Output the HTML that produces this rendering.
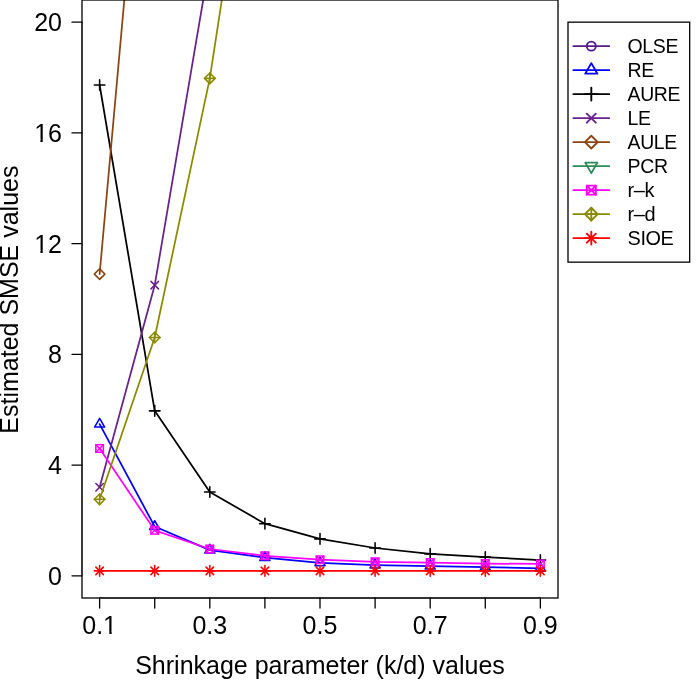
<!DOCTYPE html>
<html><head><meta charset="utf-8"><title>plot</title>
<style>html,body{margin:0;padding:0;background:#fff}svg{display:block;will-change:transform;filter:grayscale(0)}text{font-family:"Liberation Sans",sans-serif;fill:#000}</style></head>
<body>
<svg width="700" height="700" viewBox="0 0 700 700">
<rect width="700" height="700" fill="#fff"/>
<defs><clipPath id="pc"><rect x="82.0" y="0.0" width="476.0" height="598.0"/></clipPath></defs>
<g clip-path="url(#pc)">
<polyline points="99.63,424.14 154.72,526.57 209.81,550.10 264.91,557.58 320.00,562.84 375.09,565.05 430.19,566.16 485.28,567.13 540.37,568.29" fill="none" stroke="#0000FF" stroke-width="1.75" stroke-linecap="round" stroke-linejoin="round"/>
<path d="M99.63 418.31L104.68 427.05L94.58 427.05Z" fill="none" stroke="#0000FF" stroke-width="1.5625" stroke-linecap="round" stroke-linejoin="round"/>
<path d="M154.72 520.74L159.77 529.49L149.67 529.49Z" fill="none" stroke="#0000FF" stroke-width="1.5625" stroke-linecap="round" stroke-linejoin="round"/>
<path d="M209.81 544.27L214.87 553.02L204.76 553.02Z" fill="none" stroke="#0000FF" stroke-width="1.5625" stroke-linecap="round" stroke-linejoin="round"/>
<path d="M264.91 551.75L269.96 560.50L259.86 560.50Z" fill="none" stroke="#0000FF" stroke-width="1.5625" stroke-linecap="round" stroke-linejoin="round"/>
<path d="M320.00 557.01L325.05 565.76L314.95 565.76Z" fill="none" stroke="#0000FF" stroke-width="1.5625" stroke-linecap="round" stroke-linejoin="round"/>
<path d="M375.09 559.22L380.14 567.97L370.04 567.97Z" fill="none" stroke="#0000FF" stroke-width="1.5625" stroke-linecap="round" stroke-linejoin="round"/>
<path d="M430.19 560.33L435.24 569.08L425.13 569.08Z" fill="none" stroke="#0000FF" stroke-width="1.5625" stroke-linecap="round" stroke-linejoin="round"/>
<path d="M485.28 561.30L490.33 570.05L480.23 570.05Z" fill="none" stroke="#0000FF" stroke-width="1.5625" stroke-linecap="round" stroke-linejoin="round"/>
<path d="M540.37 562.46L545.42 571.21L535.32 571.21Z" fill="none" stroke="#0000FF" stroke-width="1.5625" stroke-linecap="round" stroke-linejoin="round"/>
<polyline points="99.63,85.00 154.72,410.85 209.81,491.97 264.91,523.69 320.00,538.89 375.09,548.00 430.19,553.90 485.28,557.11 540.37,560.02" fill="none" stroke="#000000" stroke-width="1.75" stroke-linecap="round" stroke-linejoin="round"/>
<path d="M94.33 85.00L104.93 85.00" fill="none" stroke="#000000" stroke-width="1.5625" stroke-linecap="round" stroke-linejoin="round"/><path d="M99.63 79.69L99.63 90.30" fill="none" stroke="#000000" stroke-width="1.5625" stroke-linecap="round" stroke-linejoin="round"/>
<path d="M149.42 410.85L160.03 410.85" fill="none" stroke="#000000" stroke-width="1.5625" stroke-linecap="round" stroke-linejoin="round"/><path d="M154.72 405.55L154.72 416.15" fill="none" stroke="#000000" stroke-width="1.5625" stroke-linecap="round" stroke-linejoin="round"/>
<path d="M204.51 491.97L215.12 491.97" fill="none" stroke="#000000" stroke-width="1.5625" stroke-linecap="round" stroke-linejoin="round"/><path d="M209.81 486.66L209.81 497.27" fill="none" stroke="#000000" stroke-width="1.5625" stroke-linecap="round" stroke-linejoin="round"/>
<path d="M259.60 523.69L270.21 523.69" fill="none" stroke="#000000" stroke-width="1.5625" stroke-linecap="round" stroke-linejoin="round"/><path d="M264.91 518.39L264.91 529.00" fill="none" stroke="#000000" stroke-width="1.5625" stroke-linecap="round" stroke-linejoin="round"/>
<path d="M314.70 538.89L325.30 538.89" fill="none" stroke="#000000" stroke-width="1.5625" stroke-linecap="round" stroke-linejoin="round"/><path d="M320.00 533.59L320.00 544.20" fill="none" stroke="#000000" stroke-width="1.5625" stroke-linecap="round" stroke-linejoin="round"/>
<path d="M369.79 548.00L380.40 548.00" fill="none" stroke="#000000" stroke-width="1.5625" stroke-linecap="round" stroke-linejoin="round"/><path d="M375.09 542.70L375.09 553.30" fill="none" stroke="#000000" stroke-width="1.5625" stroke-linecap="round" stroke-linejoin="round"/>
<path d="M424.88 553.90L435.49 553.90" fill="none" stroke="#000000" stroke-width="1.5625" stroke-linecap="round" stroke-linejoin="round"/><path d="M430.19 548.59L430.19 559.20" fill="none" stroke="#000000" stroke-width="1.5625" stroke-linecap="round" stroke-linejoin="round"/>
<path d="M479.97 557.11L490.58 557.11" fill="none" stroke="#000000" stroke-width="1.5625" stroke-linecap="round" stroke-linejoin="round"/><path d="M485.28 551.81L485.28 562.41" fill="none" stroke="#000000" stroke-width="1.5625" stroke-linecap="round" stroke-linejoin="round"/>
<path d="M535.07 560.02L545.67 560.02" fill="none" stroke="#000000" stroke-width="1.5625" stroke-linecap="round" stroke-linejoin="round"/><path d="M540.37 554.71L540.37 565.32" fill="none" stroke="#000000" stroke-width="1.5625" stroke-linecap="round" stroke-linejoin="round"/>
<polyline points="99.63,487.26 154.72,285.16 209.81,-38.75 264.91,-531.55 320.00,-1085.25 375.09,-1638.95 430.19,-2192.65 485.28,-2746.35 540.37,-3300.05" fill="none" stroke="#68228B" stroke-width="1.75" stroke-linecap="round" stroke-linejoin="round"/>
<path d="M95.88 483.51L103.38 491.01" fill="none" stroke="#68228B" stroke-width="1.5625" stroke-linecap="round" stroke-linejoin="round"/><path d="M95.88 491.01L103.38 483.51" fill="none" stroke="#68228B" stroke-width="1.5625" stroke-linecap="round" stroke-linejoin="round"/>
<path d="M150.97 281.41L158.47 288.91" fill="none" stroke="#68228B" stroke-width="1.5625" stroke-linecap="round" stroke-linejoin="round"/><path d="M150.97 288.91L158.47 281.41" fill="none" stroke="#68228B" stroke-width="1.5625" stroke-linecap="round" stroke-linejoin="round"/>
<path d="M206.06 -42.50L213.56 -35.00" fill="none" stroke="#68228B" stroke-width="1.5625" stroke-linecap="round" stroke-linejoin="round"/><path d="M206.06 -35.00L213.56 -42.50" fill="none" stroke="#68228B" stroke-width="1.5625" stroke-linecap="round" stroke-linejoin="round"/>
<polyline points="99.63,274.09 154.72,-337.75 209.81,-1085.25 264.91,-1638.95 320.00,-2192.65 375.09,-2746.35 430.19,-3300.05 485.28,-3853.75 540.37,-4407.45" fill="none" stroke="#8B4513" stroke-width="1.75" stroke-linecap="round" stroke-linejoin="round"/>
<path d="M94.33 274.09L99.63 279.39L104.93 274.09L99.63 268.78Z" fill="none" stroke="#8B4513" stroke-width="1.5625" stroke-linecap="round" stroke-linejoin="round"/>
<polyline points="99.63,448.50 154.72,530.31 209.81,549.00 264.91,555.78 320.00,559.71 375.09,561.87 430.19,562.59 485.28,563.59 540.37,563.95" fill="none" stroke="#FF00FF" stroke-width="1.75" stroke-linecap="round" stroke-linejoin="round"/>
<path d="M95.88 444.75L103.38 452.25" fill="none" stroke="#FF00FF" stroke-width="1.5625" stroke-linecap="round" stroke-linejoin="round"/><path d="M95.88 452.25L103.38 444.75" fill="none" stroke="#FF00FF" stroke-width="1.5625" stroke-linecap="round" stroke-linejoin="round"/><rect x="95.88" y="444.75" width="7.50" height="7.50" fill="none" stroke="#FF00FF" stroke-width="1.5625" stroke-linecap="round" stroke-linejoin="round"/>
<path d="M150.97 526.56L158.47 534.06" fill="none" stroke="#FF00FF" stroke-width="1.5625" stroke-linecap="round" stroke-linejoin="round"/><path d="M150.97 534.06L158.47 526.56" fill="none" stroke="#FF00FF" stroke-width="1.5625" stroke-linecap="round" stroke-linejoin="round"/><rect x="150.97" y="526.56" width="7.50" height="7.50" fill="none" stroke="#FF00FF" stroke-width="1.5625" stroke-linecap="round" stroke-linejoin="round"/>
<path d="M206.06 545.25L213.56 552.75" fill="none" stroke="#FF00FF" stroke-width="1.5625" stroke-linecap="round" stroke-linejoin="round"/><path d="M206.06 552.75L213.56 545.25" fill="none" stroke="#FF00FF" stroke-width="1.5625" stroke-linecap="round" stroke-linejoin="round"/><rect x="206.06" y="545.25" width="7.50" height="7.50" fill="none" stroke="#FF00FF" stroke-width="1.5625" stroke-linecap="round" stroke-linejoin="round"/>
<path d="M261.16 552.03L268.66 559.53" fill="none" stroke="#FF00FF" stroke-width="1.5625" stroke-linecap="round" stroke-linejoin="round"/><path d="M261.16 559.53L268.66 552.03" fill="none" stroke="#FF00FF" stroke-width="1.5625" stroke-linecap="round" stroke-linejoin="round"/><rect x="261.16" y="552.03" width="7.50" height="7.50" fill="none" stroke="#FF00FF" stroke-width="1.5625" stroke-linecap="round" stroke-linejoin="round"/>
<path d="M316.25 555.96L323.75 563.46" fill="none" stroke="#FF00FF" stroke-width="1.5625" stroke-linecap="round" stroke-linejoin="round"/><path d="M316.25 563.46L323.75 555.96" fill="none" stroke="#FF00FF" stroke-width="1.5625" stroke-linecap="round" stroke-linejoin="round"/><rect x="316.25" y="555.96" width="7.50" height="7.50" fill="none" stroke="#FF00FF" stroke-width="1.5625" stroke-linecap="round" stroke-linejoin="round"/>
<path d="M371.34 558.12L378.84 565.62" fill="none" stroke="#FF00FF" stroke-width="1.5625" stroke-linecap="round" stroke-linejoin="round"/><path d="M371.34 565.62L378.84 558.12" fill="none" stroke="#FF00FF" stroke-width="1.5625" stroke-linecap="round" stroke-linejoin="round"/><rect x="371.34" y="558.12" width="7.50" height="7.50" fill="none" stroke="#FF00FF" stroke-width="1.5625" stroke-linecap="round" stroke-linejoin="round"/>
<path d="M426.44 558.84L433.94 566.34" fill="none" stroke="#FF00FF" stroke-width="1.5625" stroke-linecap="round" stroke-linejoin="round"/><path d="M426.44 566.34L433.94 558.84" fill="none" stroke="#FF00FF" stroke-width="1.5625" stroke-linecap="round" stroke-linejoin="round"/><rect x="426.44" y="558.84" width="7.50" height="7.50" fill="none" stroke="#FF00FF" stroke-width="1.5625" stroke-linecap="round" stroke-linejoin="round"/>
<path d="M481.53 559.84L489.03 567.34" fill="none" stroke="#FF00FF" stroke-width="1.5625" stroke-linecap="round" stroke-linejoin="round"/><path d="M481.53 567.34L489.03 559.84" fill="none" stroke="#FF00FF" stroke-width="1.5625" stroke-linecap="round" stroke-linejoin="round"/><rect x="481.53" y="559.84" width="7.50" height="7.50" fill="none" stroke="#FF00FF" stroke-width="1.5625" stroke-linecap="round" stroke-linejoin="round"/>
<path d="M536.62 560.20L544.12 567.70" fill="none" stroke="#FF00FF" stroke-width="1.5625" stroke-linecap="round" stroke-linejoin="round"/><path d="M536.62 567.70L544.12 560.20" fill="none" stroke="#FF00FF" stroke-width="1.5625" stroke-linecap="round" stroke-linejoin="round"/><rect x="536.62" y="560.20" width="7.50" height="7.50" fill="none" stroke="#FF00FF" stroke-width="1.5625" stroke-linecap="round" stroke-linejoin="round"/>
<polyline points="99.63,499.30 154.72,337.48 209.81,78.35 264.91,-281.00 320.00,-808.40 375.09,-1362.10 430.19,-1915.80 485.28,-2469.50 540.37,-3023.20" fill="none" stroke="#8B8B00" stroke-width="1.75" stroke-linecap="round" stroke-linejoin="round"/>
<path d="M94.33 499.30L104.93 499.30" fill="none" stroke="#8B8B00" stroke-width="1.5625" stroke-linecap="round" stroke-linejoin="round"/><path d="M99.63 494.00L99.63 504.61" fill="none" stroke="#8B8B00" stroke-width="1.5625" stroke-linecap="round" stroke-linejoin="round"/><path d="M94.33 499.30L99.63 504.61L104.93 499.30L99.63 494.00Z" fill="none" stroke="#8B8B00" stroke-width="1.5625" stroke-linecap="round" stroke-linejoin="round"/>
<path d="M149.42 337.48L160.03 337.48" fill="none" stroke="#8B8B00" stroke-width="1.5625" stroke-linecap="round" stroke-linejoin="round"/><path d="M154.72 332.18L154.72 342.79" fill="none" stroke="#8B8B00" stroke-width="1.5625" stroke-linecap="round" stroke-linejoin="round"/><path d="M149.42 337.48L154.72 342.79L160.03 337.48L154.72 332.18Z" fill="none" stroke="#8B8B00" stroke-width="1.5625" stroke-linecap="round" stroke-linejoin="round"/>
<path d="M204.51 78.35L215.12 78.35" fill="none" stroke="#8B8B00" stroke-width="1.5625" stroke-linecap="round" stroke-linejoin="round"/><path d="M209.81 73.05L209.81 83.66" fill="none" stroke="#8B8B00" stroke-width="1.5625" stroke-linecap="round" stroke-linejoin="round"/><path d="M204.51 78.35L209.81 83.66L215.12 78.35L209.81 73.05Z" fill="none" stroke="#8B8B00" stroke-width="1.5625" stroke-linecap="round" stroke-linejoin="round"/>
<polyline points="99.63,570.87 154.72,570.87 209.81,570.87 264.91,570.87 320.00,570.87 375.09,570.87 430.19,570.87 485.28,570.87 540.37,570.87" fill="none" stroke="#FF0000" stroke-width="1.75" stroke-linecap="round" stroke-linejoin="round"/>
<path d="M95.88 567.12L103.38 574.62" fill="none" stroke="#FF0000" stroke-width="1.5625" stroke-linecap="round" stroke-linejoin="round"/><path d="M95.88 574.62L103.38 567.12" fill="none" stroke="#FF0000" stroke-width="1.5625" stroke-linecap="round" stroke-linejoin="round"/><path d="M94.33 570.87L104.93 570.87" fill="none" stroke="#FF0000" stroke-width="1.5625" stroke-linecap="round" stroke-linejoin="round"/><path d="M99.63 565.57L99.63 576.17" fill="none" stroke="#FF0000" stroke-width="1.5625" stroke-linecap="round" stroke-linejoin="round"/>
<path d="M150.97 567.12L158.47 574.62" fill="none" stroke="#FF0000" stroke-width="1.5625" stroke-linecap="round" stroke-linejoin="round"/><path d="M150.97 574.62L158.47 567.12" fill="none" stroke="#FF0000" stroke-width="1.5625" stroke-linecap="round" stroke-linejoin="round"/><path d="M149.42 570.87L160.03 570.87" fill="none" stroke="#FF0000" stroke-width="1.5625" stroke-linecap="round" stroke-linejoin="round"/><path d="M154.72 565.57L154.72 576.17" fill="none" stroke="#FF0000" stroke-width="1.5625" stroke-linecap="round" stroke-linejoin="round"/>
<path d="M206.06 567.12L213.56 574.62" fill="none" stroke="#FF0000" stroke-width="1.5625" stroke-linecap="round" stroke-linejoin="round"/><path d="M206.06 574.62L213.56 567.12" fill="none" stroke="#FF0000" stroke-width="1.5625" stroke-linecap="round" stroke-linejoin="round"/><path d="M204.51 570.87L215.12 570.87" fill="none" stroke="#FF0000" stroke-width="1.5625" stroke-linecap="round" stroke-linejoin="round"/><path d="M209.81 565.57L209.81 576.17" fill="none" stroke="#FF0000" stroke-width="1.5625" stroke-linecap="round" stroke-linejoin="round"/>
<path d="M261.16 567.12L268.66 574.62" fill="none" stroke="#FF0000" stroke-width="1.5625" stroke-linecap="round" stroke-linejoin="round"/><path d="M261.16 574.62L268.66 567.12" fill="none" stroke="#FF0000" stroke-width="1.5625" stroke-linecap="round" stroke-linejoin="round"/><path d="M259.60 570.87L270.21 570.87" fill="none" stroke="#FF0000" stroke-width="1.5625" stroke-linecap="round" stroke-linejoin="round"/><path d="M264.91 565.57L264.91 576.17" fill="none" stroke="#FF0000" stroke-width="1.5625" stroke-linecap="round" stroke-linejoin="round"/>
<path d="M316.25 567.12L323.75 574.62" fill="none" stroke="#FF0000" stroke-width="1.5625" stroke-linecap="round" stroke-linejoin="round"/><path d="M316.25 574.62L323.75 567.12" fill="none" stroke="#FF0000" stroke-width="1.5625" stroke-linecap="round" stroke-linejoin="round"/><path d="M314.70 570.87L325.30 570.87" fill="none" stroke="#FF0000" stroke-width="1.5625" stroke-linecap="round" stroke-linejoin="round"/><path d="M320.00 565.57L320.00 576.17" fill="none" stroke="#FF0000" stroke-width="1.5625" stroke-linecap="round" stroke-linejoin="round"/>
<path d="M371.34 567.12L378.84 574.62" fill="none" stroke="#FF0000" stroke-width="1.5625" stroke-linecap="round" stroke-linejoin="round"/><path d="M371.34 574.62L378.84 567.12" fill="none" stroke="#FF0000" stroke-width="1.5625" stroke-linecap="round" stroke-linejoin="round"/><path d="M369.79 570.87L380.40 570.87" fill="none" stroke="#FF0000" stroke-width="1.5625" stroke-linecap="round" stroke-linejoin="round"/><path d="M375.09 565.57L375.09 576.17" fill="none" stroke="#FF0000" stroke-width="1.5625" stroke-linecap="round" stroke-linejoin="round"/>
<path d="M426.44 567.12L433.94 574.62" fill="none" stroke="#FF0000" stroke-width="1.5625" stroke-linecap="round" stroke-linejoin="round"/><path d="M426.44 574.62L433.94 567.12" fill="none" stroke="#FF0000" stroke-width="1.5625" stroke-linecap="round" stroke-linejoin="round"/><path d="M424.88 570.87L435.49 570.87" fill="none" stroke="#FF0000" stroke-width="1.5625" stroke-linecap="round" stroke-linejoin="round"/><path d="M430.19 565.57L430.19 576.17" fill="none" stroke="#FF0000" stroke-width="1.5625" stroke-linecap="round" stroke-linejoin="round"/>
<path d="M481.53 567.12L489.03 574.62" fill="none" stroke="#FF0000" stroke-width="1.5625" stroke-linecap="round" stroke-linejoin="round"/><path d="M481.53 574.62L489.03 567.12" fill="none" stroke="#FF0000" stroke-width="1.5625" stroke-linecap="round" stroke-linejoin="round"/><path d="M479.97 570.87L490.58 570.87" fill="none" stroke="#FF0000" stroke-width="1.5625" stroke-linecap="round" stroke-linejoin="round"/><path d="M485.28 565.57L485.28 576.17" fill="none" stroke="#FF0000" stroke-width="1.5625" stroke-linecap="round" stroke-linejoin="round"/>
<path d="M536.62 567.12L544.12 574.62" fill="none" stroke="#FF0000" stroke-width="1.5625" stroke-linecap="round" stroke-linejoin="round"/><path d="M536.62 574.62L544.12 567.12" fill="none" stroke="#FF0000" stroke-width="1.5625" stroke-linecap="round" stroke-linejoin="round"/><path d="M535.07 570.87L545.67 570.87" fill="none" stroke="#FF0000" stroke-width="1.5625" stroke-linecap="round" stroke-linejoin="round"/><path d="M540.37 565.57L540.37 576.17" fill="none" stroke="#FF0000" stroke-width="1.5625" stroke-linecap="round" stroke-linejoin="round"/>
</g>
<g stroke="#000" stroke-width="1.3" stroke-linecap="round" fill="none">
<path d="M99.63 598.0H540.37" stroke-opacity="0.55"/>
<path d="M99.63 598.0v10"/>
<path d="M154.72 598.0v10"/>
<path d="M209.81 598.0v10"/>
<path d="M264.91 598.0v10"/>
<path d="M320.00 598.0v10"/>
<path d="M375.09 598.0v10"/>
<path d="M430.19 598.0v10"/>
<path d="M485.28 598.0v10"/>
<path d="M540.37 598.0v10"/>
<path d="M82.0 575.85V22.15" stroke-opacity="0.55"/>
<path d="M82.0 575.85h-10"/>
<path d="M82.0 465.11h-10"/>
<path d="M82.0 354.37h-10"/>
<path d="M82.0 243.63h-10"/>
<path d="M82.0 132.89h-10"/>
<path d="M82.0 22.15h-10"/>
<rect x="82.0" y="0.0" width="476.0" height="598.0"/>
</g>
<text x="99.63" y="634" font-size="25" text-anchor="middle">0.1</text>
<text x="209.81" y="634" font-size="25" text-anchor="middle">0.3</text>
<text x="320.00" y="634" font-size="25" text-anchor="middle">0.5</text>
<text x="430.19" y="634" font-size="25" text-anchor="middle">0.7</text>
<text x="540.37" y="634" font-size="25" text-anchor="middle">0.9</text>
<text x="62" y="584.80" font-size="25" text-anchor="end">0</text>
<text x="62" y="474.06" font-size="25" text-anchor="end">4</text>
<text x="62" y="363.32" font-size="25" text-anchor="end">8</text>
<text x="62" y="252.58" font-size="25" text-anchor="end">12</text>
<text x="62" y="141.84" font-size="25" text-anchor="end">16</text>
<text x="62" y="31.10" font-size="25" text-anchor="end">20</text>
<rect x="104.08" y="631.60" width="5.26" height="2.9" fill="#fff"/><rect x="111.65" y="631.60" width="4.44" height="2.9" fill="#fff"/>
<rect x="35.17" y="250.18" width="5.26" height="2.9" fill="#fff"/><rect x="42.74" y="250.18" width="4.44" height="2.9" fill="#fff"/>
<rect x="35.17" y="139.44" width="5.26" height="2.9" fill="#fff"/><rect x="42.74" y="139.44" width="4.44" height="2.9" fill="#fff"/>
<text x="320" y="674" font-size="25" text-anchor="middle">Shrinkage parameter (k/d) values</text>
<text transform="translate(18,299.6) rotate(-90)" font-size="25" text-anchor="middle">Estimated SMSE values</text>
<rect x="568.0" y="22.15" width="121.7" height="240.0" fill="#fff" stroke="#000" stroke-width="1.3"/>
<path d="M573.4 46.15H609.2" stroke="#551A8B" stroke-width="1.8" stroke-linecap="round" fill="none"/>
<circle cx="591.30" cy="46.15" r="4.50" fill="none" stroke="#551A8B" stroke-width="1.9" stroke-linecap="round" stroke-linejoin="round"/>
<text transform="translate(627.6,53.45) scale(0.975,1.03)" font-size="20" letter-spacing="-0.4">OLSE</text>
<path d="M573.4 70.15H609.2" stroke="#0000FF" stroke-width="1.8" stroke-linecap="round" fill="none"/>
<path d="M591.30 63.15L597.36 73.65L585.24 73.65Z" fill="none" stroke="#0000FF" stroke-width="1.9" stroke-linecap="round" stroke-linejoin="round"/>
<text transform="translate(627.6,77.45) scale(0.975,1.03)" font-size="20" letter-spacing="-0.4">RE</text>
<path d="M573.4 94.15H609.2" stroke="#000000" stroke-width="1.8" stroke-linecap="round" fill="none"/>
<path d="M584.94 94.15L597.66 94.15" fill="none" stroke="#000000" stroke-width="1.9" stroke-linecap="round" stroke-linejoin="round"/><path d="M591.30 87.79L591.30 100.51" fill="none" stroke="#000000" stroke-width="1.9" stroke-linecap="round" stroke-linejoin="round"/>
<text transform="translate(627.6,101.45) scale(0.97,1.03)" font-size="20" letter-spacing="-0.4">AURE</text>
<path d="M573.4 118.15H609.2" stroke="#68228B" stroke-width="1.8" stroke-linecap="round" fill="none"/>
<path d="M586.80 113.65L595.80 122.65" fill="none" stroke="#68228B" stroke-width="1.9" stroke-linecap="round" stroke-linejoin="round"/><path d="M586.80 122.65L595.80 113.65" fill="none" stroke="#68228B" stroke-width="1.9" stroke-linecap="round" stroke-linejoin="round"/>
<text transform="translate(627.6,125.45) scale(0.975,1.03)" font-size="20" letter-spacing="-0.4">LE</text>
<path d="M573.4 142.15H609.2" stroke="#8B4513" stroke-width="1.8" stroke-linecap="round" fill="none"/>
<path d="M584.94 142.15L591.30 148.51L597.66 142.15L591.30 135.79Z" fill="none" stroke="#8B4513" stroke-width="1.9" stroke-linecap="round" stroke-linejoin="round"/>
<text transform="translate(627.6,149.45) scale(0.97,1.03)" font-size="20" letter-spacing="-0.4">AULE</text>
<path d="M573.4 166.15H609.2" stroke="#2E8B57" stroke-width="1.8" stroke-linecap="round" fill="none"/>
<path d="M591.30 173.15L597.36 162.65L585.24 162.65Z" fill="none" stroke="#2E8B57" stroke-width="1.9" stroke-linecap="round" stroke-linejoin="round"/>
<text transform="translate(627.6,173.45) scale(0.975,1.03)" font-size="20" letter-spacing="-0.4">PCR</text>
<path d="M573.4 190.15H609.2" stroke="#FF00FF" stroke-width="1.8" stroke-linecap="round" fill="none"/>
<path d="M586.80 185.65L595.80 194.65" fill="none" stroke="#FF00FF" stroke-width="1.9" stroke-linecap="round" stroke-linejoin="round"/><path d="M586.80 194.65L595.80 185.65" fill="none" stroke="#FF00FF" stroke-width="1.9" stroke-linecap="round" stroke-linejoin="round"/><rect x="586.80" y="185.65" width="9.00" height="9.00" fill="none" stroke="#FF00FF" stroke-width="1.9" stroke-linecap="round" stroke-linejoin="round"/>
<text transform="translate(627.6,197.45) scale(1.0,1.0)" font-size="20" letter-spacing="-0.4">r–k</text>
<path d="M573.4 214.15H609.2" stroke="#8B8B00" stroke-width="1.8" stroke-linecap="round" fill="none"/>
<path d="M584.94 214.15L597.66 214.15" fill="none" stroke="#8B8B00" stroke-width="1.9" stroke-linecap="round" stroke-linejoin="round"/><path d="M591.30 207.79L591.30 220.51" fill="none" stroke="#8B8B00" stroke-width="1.9" stroke-linecap="round" stroke-linejoin="round"/><path d="M584.94 214.15L591.30 220.51L597.66 214.15L591.30 207.79Z" fill="none" stroke="#8B8B00" stroke-width="1.9" stroke-linecap="round" stroke-linejoin="round"/>
<text transform="translate(627.6,221.45) scale(1.0,1.0)" font-size="20" letter-spacing="-0.4">r–d</text>
<path d="M573.4 238.15H609.2" stroke="#FF0000" stroke-width="1.8" stroke-linecap="round" fill="none"/>
<path d="M586.80 233.65L595.80 242.65" fill="none" stroke="#FF0000" stroke-width="1.9" stroke-linecap="round" stroke-linejoin="round"/><path d="M586.80 242.65L595.80 233.65" fill="none" stroke="#FF0000" stroke-width="1.9" stroke-linecap="round" stroke-linejoin="round"/><path d="M584.94 238.15L597.66 238.15" fill="none" stroke="#FF0000" stroke-width="1.9" stroke-linecap="round" stroke-linejoin="round"/><path d="M591.30 231.79L591.30 244.51" fill="none" stroke="#FF0000" stroke-width="1.9" stroke-linecap="round" stroke-linejoin="round"/>
<text transform="translate(627.6,245.45) scale(0.992,1.03)" font-size="20" letter-spacing="-0.4">SIOE</text>
</svg></body></html>
